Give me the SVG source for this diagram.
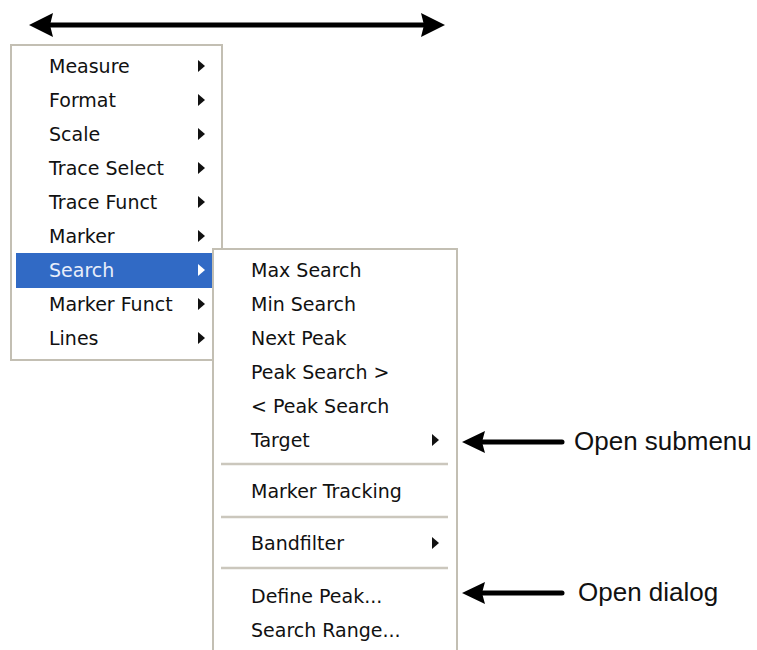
<svg xmlns="http://www.w3.org/2000/svg" width="757" height="650" viewBox="0 0 757 650">
<style>
.mi{font-family:"DejaVu Sans",Verdana,sans-serif;font-size:19px;fill:#111}
.hi{font-family:"DejaVu Sans",Verdana,sans-serif;font-size:19px;fill:#e8eefa}
.lbl{font-family:"Liberation Sans",Arial,sans-serif;font-size:26px;fill:#111}
.menu{fill:#fff;stroke:#c3bfb3;stroke-width:2}
.sep{stroke:#cbc7bd;stroke-width:2.5}
.tri{fill:#111}
.arr{stroke:#000;stroke-width:5;fill:none;stroke-linecap:round}
.head{fill:#000}
</style>
<rect width="757" height="650" fill="#fff"/>
<g id="main-menu">
<rect class="menu" x="11" y="45" width="211" height="315"/>
<rect x="16" y="253" width="196" height="35" fill="#316ac5"/>
<text class="mi" x="49" y="73">Measure</text>
<text class="mi" x="49" y="107">Format</text>
<text class="mi" x="49" y="141">Scale</text>
<text class="mi" x="49" y="175">Trace Select</text>
<text class="mi" x="49" y="209">Trace Funct</text>
<text class="mi" x="49" y="243">Marker</text>
<text class="hi" x="49" y="277">Search</text>
<text class="mi" x="49" y="311">Marker Funct</text>
<text class="mi" x="49" y="345">Lines</text>
<polygon class="tri" points="198,60 198,72 205,66"/>
<polygon class="tri" points="198,94 198,106 205,100"/>
<polygon class="tri" points="198,128 198,140 205,134"/>
<polygon class="tri" points="198,162 198,174 205,168"/>
<polygon class="tri" points="198,196 198,208 205,202"/>
<polygon class="tri" points="198,230 198,242 205,236"/>
<polygon fill="#fff" points="198,264 198,276 205,270"/>
<polygon class="tri" points="198,298 198,310 205,304"/>
<polygon class="tri" points="198,332 198,344 205,338"/>
</g>
<g id="search-submenu">
<rect class="menu" x="213" y="249" width="244" height="420"/>
<text class="mi" x="251" y="277">Max Search</text>
<text class="mi" x="251" y="311">Min Search</text>
<text class="mi" x="251" y="345">Next Peak</text>
<text class="mi" x="251" y="379">Peak Search &gt;</text>
<text class="mi" x="251" y="413">&lt; Peak Search</text>
<text class="mi" x="251" y="447">Target</text>
<polygon class="tri" points="432,434 432,446 439,440"/>
<line class="sep" x1="221" y1="464" x2="448" y2="464"/>
<text class="mi" x="251" y="498">Marker Tracking</text>
<line class="sep" x1="221" y1="517" x2="448" y2="517"/>
<text class="mi" x="251" y="550">Bandfilter</text>
<polygon class="tri" points="432,537 432,549 439,543"/>
<line class="sep" x1="221" y1="568" x2="448" y2="568"/>
<text class="mi" x="251" y="603">Define Peak...</text>
<text class="mi" x="251" y="637">Search Range...</text>
</g>
<g id="connectors">
<line class="arr" x1="48" y1="25" x2="426" y2="25"/>
<polygon class="head" points="29,25 53,13 50,25 53,37"/>
<polygon class="head" points="445,25 421,13 424,25 421,37"/>
<line class="arr" x1="480" y1="442" x2="562" y2="442"/>
<polygon class="head" points="462,442 485,431 482,442 485,453"/>
<line class="arr" x1="480" y1="593" x2="562" y2="593"/>
<polygon class="head" points="462,593 485,582 482,593 485,604"/>
</g>
<g id="labels">
<text class="lbl" x="574" y="450">Open submenu</text>
<text class="lbl" x="578" y="601">Open dialog</text>
</g>
</svg>
